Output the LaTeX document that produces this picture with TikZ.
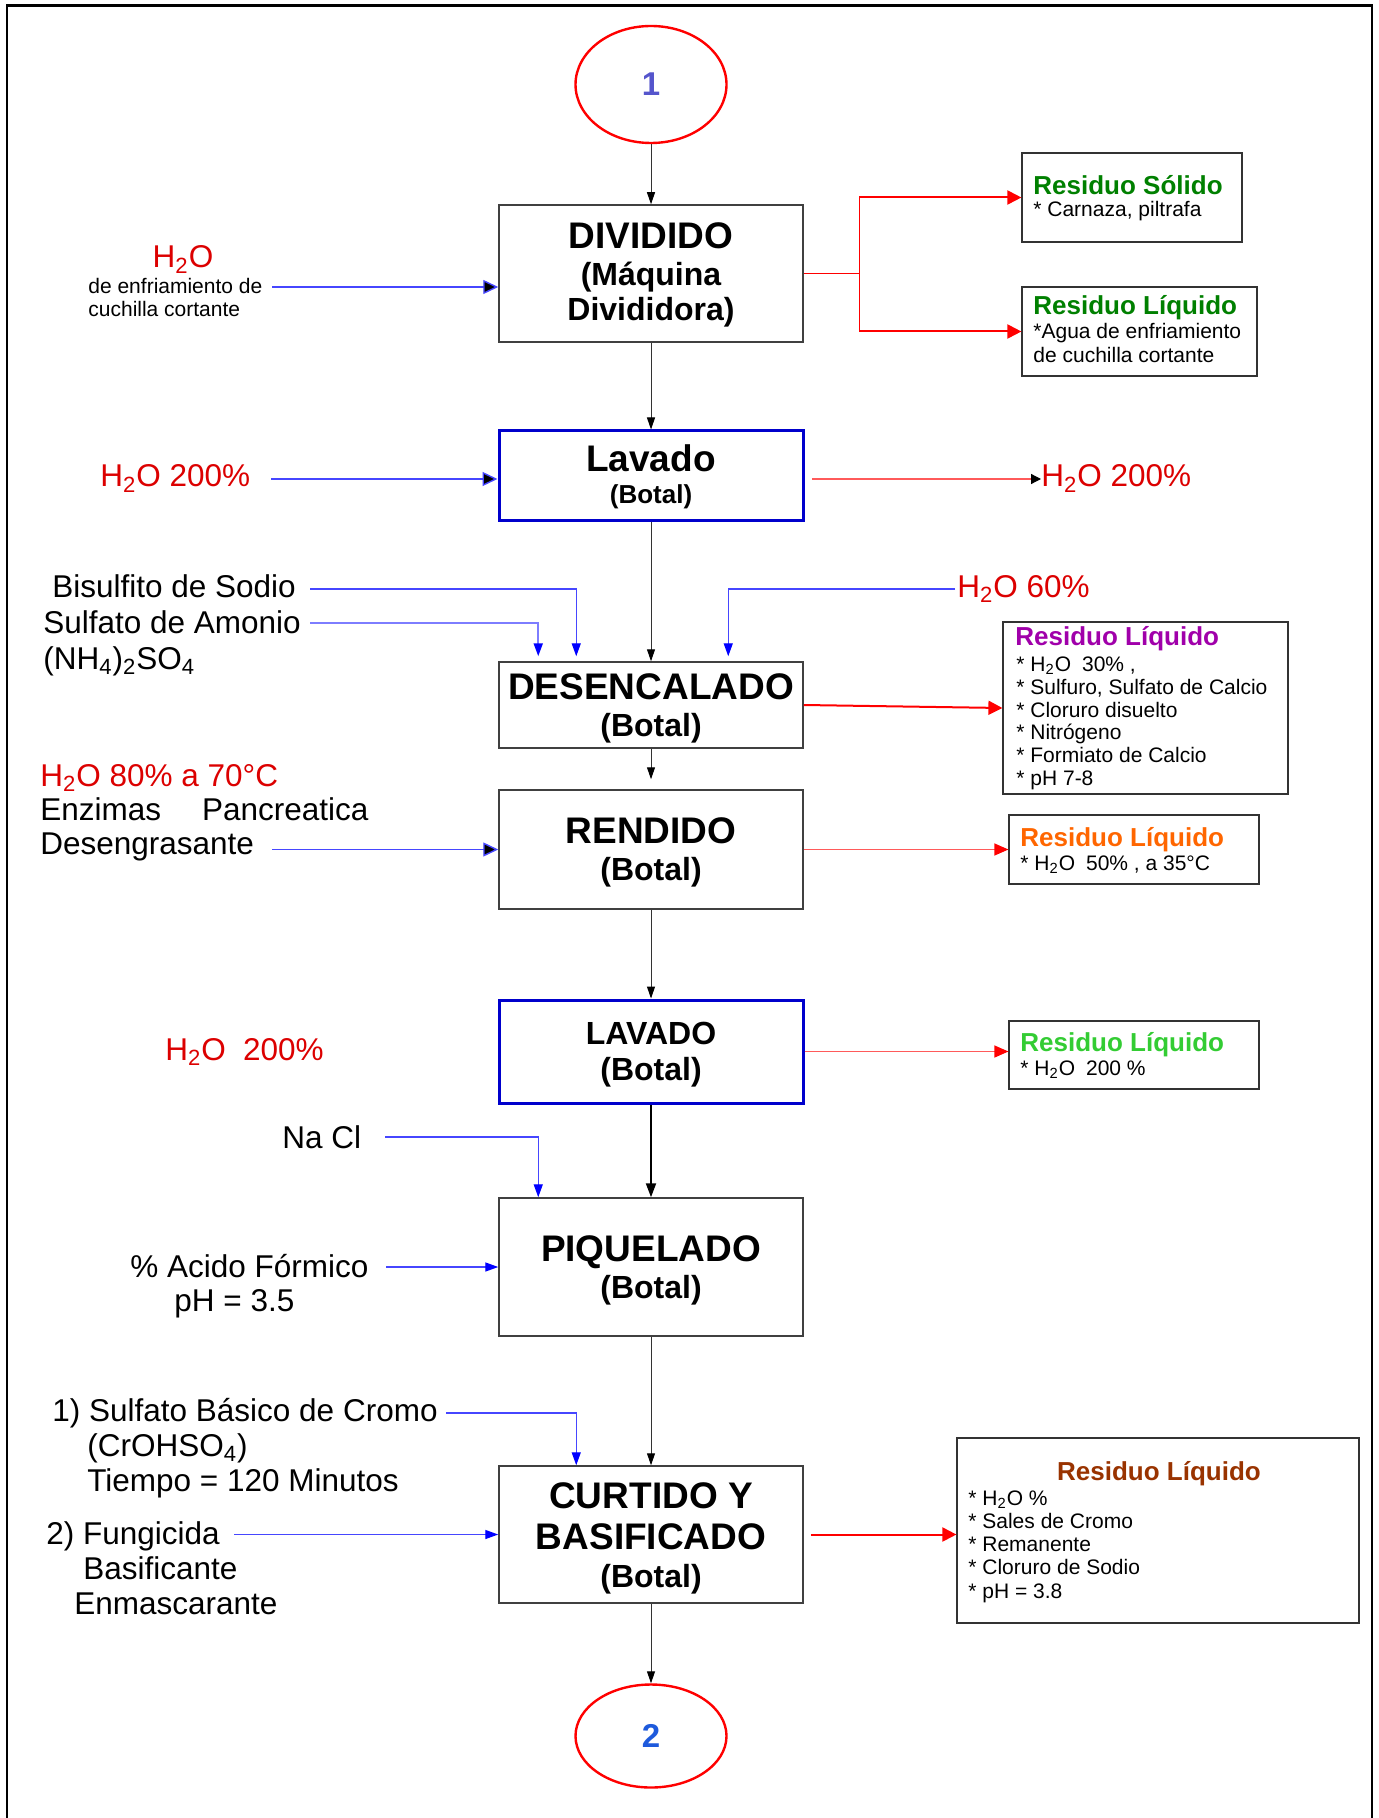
\documentclass[tikz,border=0pt]{standalone}
\usepackage{fontspec}
\setmainfont{Liberation Sans}
\usetikzlibrary{arrows.meta,shapes.geometric}

\definecolor{txtred}{RGB}{220,0,0}
\definecolor{lnblue}{RGB}{70,70,255}
\definecolor{lnbluelight}{RGB}{125,125,255}
\definecolor{boxblue}{RGB}{0,0,204}
\definecolor{lnred}{RGB}{255,0,0}
\definecolor{lnredlight}{RGB}{255,90,90}
\definecolor{resgreen}{RGB}{0,128,0}
\definecolor{reslime}{RGB}{51,204,51}
\definecolor{resorange}{RGB}{255,102,0}
\definecolor{respurple}{RGB}{160,0,170}
\definecolor{resbrown}{RGB}{153,51,0}
\definecolor{numslate}{RGB}{85,85,204}
\definecolor{numblue}{RGB}{30,90,220}

\newcommand{\sbs}[1]{\textsubscript{#1}}

\begin{document}
\begin{tikzpicture}[x=0.5pt,y=-0.5pt,
  fbig/.style={font=\fontsize{15.75pt}{18pt}\selectfont},
  fsmall/.style={font=\fontsize{10.5pt}{12pt}\selectfont},
  fhead/.style={font=\bfseries\fontsize{13pt}{15pt}\selectfont},
  ftitle/.style={font=\bfseries\fontsize{18.5pt}{21pt}\selectfont},
  fsub/.style={font=\bfseries\fontsize{16pt}{18pt}\selectfont},
  txt/.style={inner sep=0pt, anchor=base west},
  ctr/.style={inner sep=0pt, anchor=base},
  procbox/.style={draw=black!75, line width=0.75pt, minimum width=152pt, inner sep=0pt},
  washbox/.style={draw=boxblue, line width=1.5pt, minimum width=152pt, inner sep=0pt},
  resbox/.style={draw=black!80, line width=0.6pt, inner sep=0pt},
  connector/.style={ellipse, draw=lnred, line width=1.2pt, minimum width=75.5pt, inner sep=0pt,
    font=\bfseries\fontsize{16.5pt}{18pt}\selectfont},
  flowv/.style={draw=black!80, line width=0.5pt, -{Triangle[length=6pt,width=4pt,color=black]}},
  flowthick/.style={draw=black, line width=1pt, -{Triangle[length=7pt,width=5pt]}},
  feedk/.style={draw=lnblue, line width=0.7pt, -{Triangle[length=7.5pt,width=7pt,fill=black]}},
  feedb/.style={draw=lnblue, line width=0.7pt, -{Triangle[length=6.5pt,width=4.5pt,color=blue]}},
  feedbl/.style={draw=lnbluelight, line width=1pt, -{Triangle[length=6.5pt,width=4.5pt,color=blue]}},
  redthin/.style={draw=lnred, line width=0.5pt},
  redthick/.style={draw=lnred, line width=1pt, -{Triangle[length=7pt,width=7pt]}},
  redlight/.style={draw=lnredlight, line width=0.6pt, -{Triangle[length=7pt,width=6pt,color=lnred]}}
]
\fill[white] (0,0) rectangle (1379,1818);
\useasboundingbox (0,0) rectangle (1379,1818);

% page frame (open at the bottom)
\draw[line width=1pt] (7,1818) -- (7,6) -- (1372,6) -- (1372,1818);
\draw[line width=1.5pt] (6,6) -- (1373,6);

% ---------------- main column ----------------
\node[connector, minimum height=58.5pt, text=numslate] (c1) at (651,84.5) {1};

\node[procbox, minimum height=68.5pt] (div) at (651,273.5) {};
\node[ctr, ftitle] (divA) at (651,249) {DIVIDIDO};
\node[ctr, fsub] (divB) at (651,286) {(Máquina};
\node[ctr, fsub] (divC) at (651,321) {Divididora)};

\node[washbox, minimum height=44.5pt] (lav1) at (651,475.5) {};
\node[ctr, ftitle] (lav1A) at (651,472) {Lavado};
\node[ctr, font=\bfseries\fontsize{13pt}{15pt}\selectfont] (lav1B) at (651,503) {(Botal)};

\node[procbox, minimum height=43pt] (des) at (651,705) {};
\node[ctr, ftitle] (desA) at (651,699) {DESENCALADO};
\node[ctr, fsub] (desB) at (651,736) {(Botal)};

\node[procbox, minimum height=59.5pt] (ren) at (651,849.5) {};
\node[ctr, ftitle] (renA) at (651,843) {RENDIDO};
\node[ctr, fsub] (renB) at (651,880) {(Botal)};

\node[washbox, minimum height=51.5pt] (lav2) at (651,1051.5) {};
\node[ctr, fsub] (lav2A) at (651,1044) {LAVADO};
\node[ctr, fsub] (lav2B) at (651,1080) {(Botal)};

\node[procbox, minimum height=69pt] (piq) at (651,1267) {};
\node[ctr, ftitle] (piqA) at (651,1261) {PIQUELADO};
\node[ctr, fsub] (piqB) at (651,1298) {(Botal)};

\node[procbox, minimum height=68.5pt] (cur) at (651,1534.5) {};
\node[ctr, ftitle] (curA) at (651,1508) {CURTIDO Y};
\node[ctr, ftitle] (curB) at (651,1549) {BASIFICADO};
\node[ctr, fsub] (curC) at (651,1587) {(Botal)};

\node[connector, minimum height=51.5pt, text=numblue] (c2) at (651,1736) {2};

% main flow
\draw[flowv] (c1.south) -- (div.north);
\draw[flowv] (div.south) -- (lav1.north);
\draw[flowv] (lav1.south) -- (des.north);
\draw[flowv, shorten >=5pt] (des.south) -- (ren.north);
\draw[flowv] (ren.south) -- (lav2.north);
\draw[flowthick] (lav2.south) -- (piq.north);
\draw[flowv] (piq.south) -- (cur.north);
\draw[flowv] (cur.south) -- (c2.north);

% ---------------- inputs (left) ----------------
\node[ctr, fbig, text=txtred] (inDivA) at (183,268) {H\sbs{2}O};
\node[txt, fsmall] (inDivB) at (88,294) {de enfriamiento de};
\node[txt, fsmall] (inDivC) at (88,317) {cuchilla cortante};
\coordinate (inDiv) at (272,287);
\draw[feedk] (inDiv) -- (inDiv -| div.west);

\node[txt, fbig, text=txtred] (inLav) at (100,487) {H\sbs{2}O 200\%};
\coordinate (inLavS) at (271,479);
\draw[feedk] (inLavS) -- (inLavS -| lav1.west);

\node[txt, fbig] (inBis) at (52,597) {Bisulfito de Sodio};
\node[txt, fbig] (inSul) at (43,633) {Sulfato de Amonio};
\node[txt, fbig] (inSulF) at (43,669) {(NH\sbs{4})\sbs{2}SO\sbs{4}};
\coordinate (inBisS) at (310,589);
\coordinate (inSulS) at (310,623);
\draw[feedb, shorten >=2.5pt] (inBisS) -| ([xshift=39pt]des.north west);
\draw[feedbl, shorten >=2.5pt] (inSulS) -| ([xshift=20pt]des.north west);

\node[txt, fbig, text=txtred] (inW60) at (957,597) {H\sbs{2}O 60\%};
\coordinate (inW60S) at (955,589);
\draw[feedb, shorten >=2.5pt] (inW60S) -| ([xshift=115pt]des.north west);

\node[txt, fbig, text=txtred] (inRenA) at (40,786) {H\sbs{2}O 80\% a 70°C};
\node[txt, fbig] (inRenB) at (40,820) {Enzimas\hspace{20.5pt}Pancreatica};
\node[txt, fbig] (inRenC) at (40,854) {Desengrasante};
\coordinate (inRenS) at (272,849.5);
\draw[feedk] (inRenS) -- (inRenS -| ren.west);

\node[txt, fbig, text=txtred] (inLav2) at (165,1060) {H\sbs{2}O\hspace{8.6pt}200\%};

\node[txt, fbig] (inNaCl) at (282,1148) {Na Cl};
\coordinate (inNaClS) at (385,1137);
\draw[feedb] (inNaClS) -| ([xshift=20pt]piq.north west);

\node[txt, fbig] (inAcA) at (130,1277) {\% Acido Fórmico};
\node[txt, fbig] (inAcB) at (174,1311) {pH = 3.5};
\coordinate (inAcS) at (386,1267);
\draw[feedb] (inAcS) -- (inAcS -| piq.west);

\node[txt, fbig] (inCrA) at (52,1421) {1) Sulfato Básico de Cromo};
\node[txt, fbig] (inCrB) at (87,1456) {(CrOHSO\sbs{4})};
\node[txt, fbig] (inCrC) at (87,1491) {Tiempo = 120 Minutos};
\node[txt, fbig] (inFuA) at (46,1544) {2) Fungicida};
\node[txt, fbig] (inFuB) at (83,1579) {Basificante};
\node[txt, fbig] (inFuC) at (74,1614) {Enmascarante};
\coordinate (inCrS) at (446,1413);
\coordinate (inFuS) at (234,1534.5);
\draw[feedb] (inCrS) -| ([xshift=39pt]cur.north west);
\draw[feedb] (inFuS) -- (inFuS -| cur.west);

% ---------------- outputs (right) ----------------
\node[resbox, minimum width=110pt, minimum height=44.5pt] (rs) at (1132,197.5) {};
\node[txt, fhead, text=resgreen] (rsA) at (1033,195) {Residuo Sólido};
\node[txt, fsmall] (rsB) at (1033,217) {* Carnaza, piltrafa};

\node[resbox, minimum width=117.5pt, minimum height=44.5pt] (rl1) at (1139.5,331.5) {};
\node[txt, fhead, text=resgreen] (rl1A) at (1033,315) {Residuo Líquido};
\node[txt, fsmall] (rl1B) at (1033,339) {*Agua de enfriamiento};
\node[txt, fsmall] (rl1C) at (1033,363) {de cuchilla cortante};

\coordinate (jd) at (859,273.5);
\draw[redthin] (div.east) -- (jd);
\draw[redthin] (jd |- rs.west) -- (jd |- rl1.west);
\draw[redthick] (jd |- rs.west) -- (rs.west);
\draw[redthick] (jd |- rl1.west) -- (rl1.west);

\node[txt, fbig, text=txtred] (outLav) at (1041,487) {H\sbs{2}O 200\%};
\coordinate (outLavS) at (812,479);
\draw[draw=lnredlight, line width=0.6pt, -{Triangle[length=5pt,width=5pt,color=black]}]
  (outLavS) -- (outLavS -| outLav.west);

\node[resbox, minimum width=142.5pt, minimum height=86pt] (rl2) at (1145.5,708) {};
\node[txt, fhead, text=respurple] (rl2A) at (1015,645) {Residuo Líquido};
\node[txt, fsmall] (rl2B) at (1016,671) {* H\sbs{2}O\hspace{5.5pt}30\% ,};
\node[txt, fsmall] (rl2C) at (1016,694) {* Sulfuro, Sulfato de Calcio};
\node[txt, fsmall] (rl2D) at (1016,717) {* Cloruro disuelto};
\node[txt, fsmall] (rl2E) at (1016,739) {* Nitrógeno};
\node[txt, fsmall] (rl2F) at (1016,762) {* Formiato de Calcio};
\node[txt, fsmall] (rl2G) at (1016,785) {* pH 7-8};
\draw[redthick] (des.east) -- (rl2.west);

\node[resbox, minimum width=125pt, minimum height=34.5pt] (rl3) at (1134,849.5) {};
\node[txt, fhead, text=resorange] (rl3A) at (1020,846) {Residuo Líquido};
\node[txt, fsmall] (rl3B) at (1020,870) {* H\sbs{2}O\hspace{5.5pt}50\% , a 35°C};
\draw[redlight] (ren.east) -- (rl3.west);

\node[resbox, minimum width=125pt, minimum height=34pt] (rl4) at (1134,1055) {};
\node[txt, fhead, text=reslime] (rl4A) at (1020,1051) {Residuo Líquido};
\node[txt, fsmall] (rl4B) at (1020,1075) {* H\sbs{2}O\hspace{5.5pt}200 \%};
\draw[redlight] (lav2.east) -- (lav2.east -| rl4.west);

\node[resbox, minimum width=201pt, minimum height=92.5pt] (rl5) at (1158,1530.5) {};
\node[ctr, fhead, text=resbrown] (rl5A) at (1159,1480) {Residuo Líquido};
\node[txt, fsmall] (rl5B) at (968,1505) {* H\sbs{2}O \%};
\node[txt, fsmall] (rl5C) at (968,1528) {* Sales de Cromo};
\node[txt, fsmall] (rl5D) at (968,1551) {* Remanente};
\node[txt, fsmall] (rl5E) at (968,1574) {* Cloruro de Sodio};
\node[txt, fsmall] (rl5F) at (968,1598) {* pH = 3.8};
\draw[redthick] ([xshift=3.5pt]cur.east) -- (cur.east -| rl5.west);

\end{tikzpicture}
\end{document}
